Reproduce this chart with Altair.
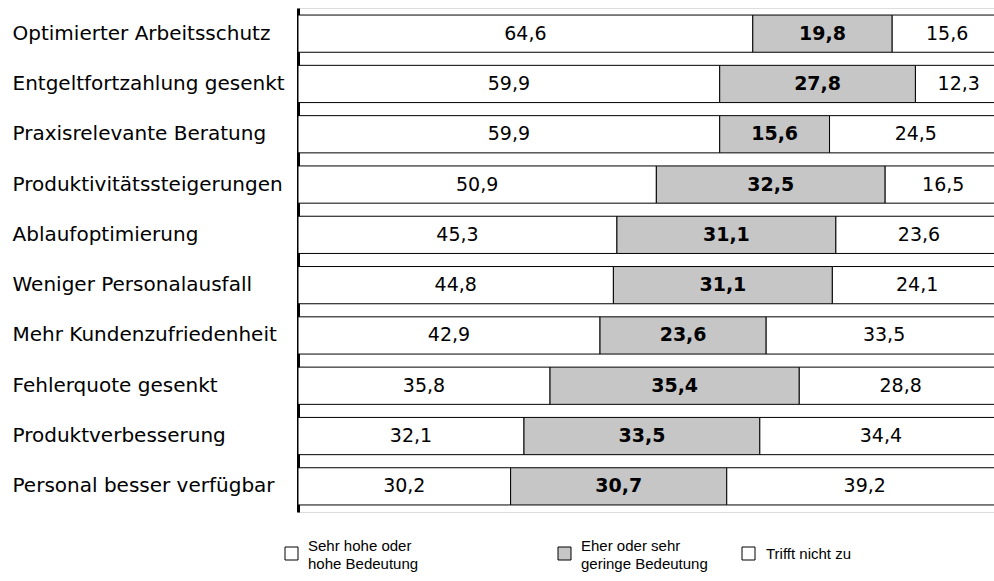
import altair as alt
import pandas as pd

categories = [
    "Optimierter Arbeitsschutz",
    "Entgeltfortzahlung gesenkt",
    "Praxisrelevante Beratung",
    "Produktivitätssteigerungen",
    "Ablaufoptimierung",
    "Weniger Personalausfall",
    "Mehr Kundenzufriedenheit",
    "Fehlerquote gesenkt",
    "Produktverbesserung",
    "Personal besser verfügbar",
]
hoch = [64.6, 59.9, 59.9, 50.9, 45.3, 44.8, 42.9, 35.8, 32.1, 30.2]
gering = [19.8, 27.8, 15.6, 32.5, 31.1, 31.1, 23.6, 35.4, 33.5, 30.7]
nicht = [15.6, 12.3, 24.5, 16.5, 23.6, 24.1, 33.5, 28.8, 34.4, 39.2]

series_names = ["Sehr hohe oder|hohe Bedeutung", "Eher oder sehr|geringe Bedeutung", "Trifft nicht zu"]
series_values = [hoch, gering, nicht]
fills = ["#ffffff", "#c6c6c6", "#ffffff"]

rows = []
for i, cat in enumerate(categories):
    start = 0.0
    for k, name in enumerate(series_names):
        v = series_values[k][i]
        rows.append({
            "cat": cat,
            "serie": name,
            "k": k,
            "start": start,
            "end": start + v,
            "mid": start + v / 2,
            "label": f"{v:.1f}".replace(".", ","),
        })
        start += v
df = pd.DataFrame(rows)

FONT = "DejaVu Sans"
LEGEND_FONT = "Liberation Sans"

y_enc = alt.Y(
    "cat:N",
    sort=categories,
    title=None,
    scale=alt.Scale(paddingInner=0.26, paddingOuter=0.14),
    axis=alt.Axis(
        labelAlign="left",
        labelPadding=286,
        labelFontSize=20,
        labelFont=FONT,
        labelColor="black",
        labelLimit=300,
        labelBaseline="middle",
        ticks=False,
        domainColor="black",
        domainWidth=3,
    ),
)
x_scale = alt.Scale(domain=[0, 98.86], nice=False, zero=True)

legend_x = [-14, 259, 443]
legend_y = [538, 538, 538]


def bar_layer(k):
    name = series_names[k]
    multi = "|" in name
    return alt.Chart(df[df["k"] == k]).mark_bar(
        stroke="black", strokeWidth=1, clip=True
    ).encode(
        x=alt.X("start:Q", scale=x_scale, axis=None),
        x2="end:Q",
        y=y_enc,
        fill=alt.Fill(
            "serie:N",
            scale=alt.Scale(domain=[name], range=[fills[k]]),
            title=None,
            legend=alt.Legend(
                orient="none",
                legendX=legend_x[k],
                legendY=legend_y[k],
                symbolType="square",
                symbolSize=169,
                symbolStrokeColor="black",
                symbolStrokeWidth=1,
                labelOffset=9 if multi else 10,
                labelFont=LEGEND_FONT,
                labelFontSize=15,
                labelColor="black",
                labelLimit=300,
                labelBaseline="bottom" if multi else "middle",
                labelExpr="split(datum.label, '|')",
            ),
        ),
    )


text_normal = alt.Chart(df[df["k"] != 1]).mark_text(
    font=FONT, fontSize=19, color="black", baseline="middle", align="center"
).encode(
    x=alt.X("mid:Q", scale=x_scale, axis=None),
    y=alt.Y("cat:N", sort=categories),
    text="label:N",
)
text_bold = alt.Chart(df[df["k"] == 1]).mark_text(
    font=FONT, fontSize=19, fontWeight="bold", color="black", baseline="middle", align="center"
).encode(
    x=alt.X("mid:Q", scale=x_scale, axis=None),
    y=alt.Y("cat:N", sort=categories),
    text="label:N",
)

chart = (
    alt.layer(bar_layer(0), bar_layer(1), bar_layer(2), text_normal, text_bold)
    .resolve_scale(fill="independent")
    .properties(
        width=696,
        height=504,
        padding={"left": 298, "top": 8, "right": 0, "bottom": 69},
        autosize=alt.AutoSizeParams(type="none"),
    )
    .configure_view(strokeWidth=0)
    .configure(background="white", style={"guide-label": {"lineHeight": 18}})
)

chart.save("out.html", embed_options={"renderer": "svg", "actions": False})
